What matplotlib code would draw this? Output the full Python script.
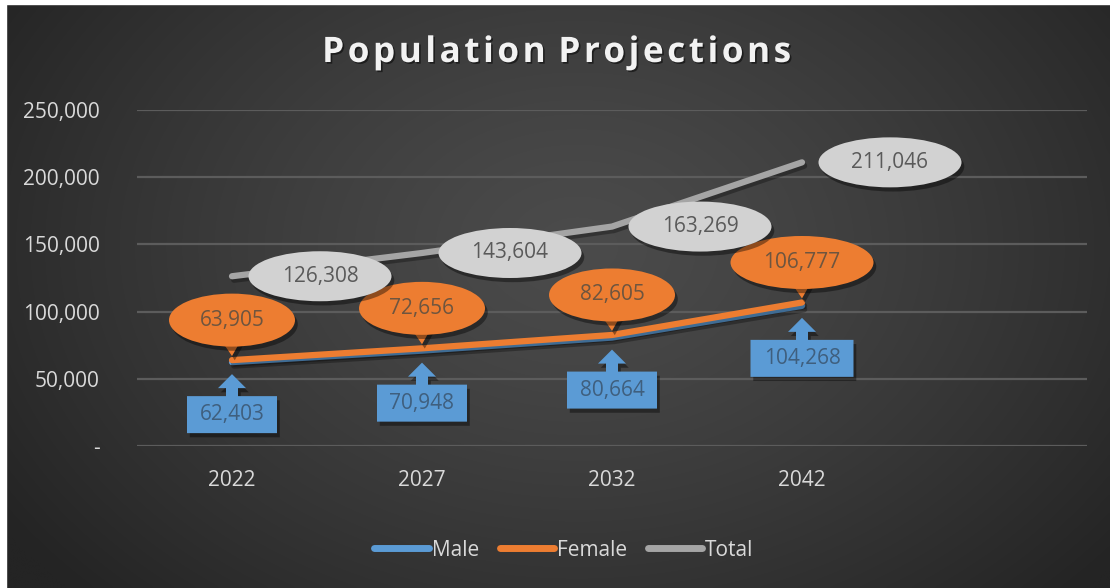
import numpy as np
import matplotlib
matplotlib.use("Agg")
import matplotlib.pyplot as plt
import matplotlib.transforms as mtransforms
import matplotlib.patheffects as pe
from matplotlib.patches import Ellipse, Polygon, Rectangle
from matplotlib.ticker import FuncFormatter

# ---- data -------------------------------------------------------------
years = ["2022", "2027", "2032", "2042"]
male = [62403, 70948, 80664, 104268]
female = [63905, 72656, 82605, 106777]
total = [126308, 143604, 163269, 211046]
y_ticks = [0, 50000, 100000, 150000, 200000, 250000]
title = "Population Projections"

# ---- styling ----------------------------------------------------------
C_MALE = "#5b9bd5"
C_FEMALE = "#ed7d31"
C_TOTAL = "#a5a5a5"
C_TOTAL_LABEL = "#d2d2d2"
TXT = "#d9d9d9"
FONT = "Open Sans"

plt.rcParams["font.family"] = [FONT, "DejaVu Sans"]

W, H, DPI = 1110, 588, 100
fig = plt.figure(figsize=(W / DPI, H / DPI), dpi=DPI)

# radial gradient background
bg = fig.add_axes([0, 0, 1, 1], zorder=-10)
gx, gy = np.meshgrid(np.linspace(0, 1, 400), np.linspace(0, 1, 220))
r = np.sqrt(((gx - 0.52) / 0.62) ** 2 + ((gy - 0.42) / 0.85) ** 2)
r = np.clip(r, 0, 1)
lev = (0x4b - (0x4b - 0x24) * r ** 1.3) / 255.0
img = np.dstack([lev, lev, lev])
bg.imshow(img, extent=[0, 1, 0, 1], aspect="auto", origin="upper",
          interpolation="bicubic")
bg.set_xlim(0, 1)
bg.set_ylim(0, 1)
bg.axis("off")
# page margin strips
bg.add_patch(Rectangle((0, 0), 6 / W, 1, color="white", transform=bg.transAxes))
bg.add_patch(Rectangle((0, 1 - 4 / H), 1, 4 / H, color="white",
                       transform=bg.transAxes))

# plot area
left, right = 137, 1087
top, bottom = 110, 446
ax = fig.add_axes([left / W, (H - bottom) / H, (right - left) / W,
                   (bottom - top) / H])
ax.set_facecolor("none")
ax.set_xlim(-0.5, 4.5)
ax.set_ylim(0, 250000)
ax.set_yticks(y_ticks)
ax.yaxis.set_major_formatter(
    FuncFormatter(lambda v, p: "-" if v == 0 else f"{int(v):,}"))
ax.set_xticks(range(len(years)))
ax.set_xticklabels(years)
ax.tick_params(axis="both", length=0, colors=TXT, labelsize=15)
ax.tick_params(axis="y", pad=27)
ax.tick_params(axis="x", pad=17)
for s in ax.spines.values():
    s.set_visible(False)
ax.grid(axis="y", color="#5c5c5c", linewidth=1.6)
ax.set_axisbelow(True)

x = np.arange(len(years))
line_fx = [pe.SimpleLineShadow(offset=(1.5, -2.5), shadow_color="black",
                               alpha=0.3), pe.Normal()]
ax.plot(x, male, color=C_MALE, lw=4.5, solid_capstyle="round",
        label="Male", path_effects=line_fx, zorder=3)
ax.plot(x, female, color=C_FEMALE, lw=4.5, solid_capstyle="round",
        label="Female", path_effects=line_fx, zorder=3.1)
ax.plot(x, total, color=C_TOTAL, lw=4.5, solid_capstyle="round",
        label="Total", path_effects=line_fx, zorder=3.2)

shape_fx = [pe.SimplePatchShadow(offset=(2, -3), shadow_rgbFace="black",
                                 alpha=0.4), pe.Normal()]


def anchor(xd, yd):
    """Pixel-unit transform anchored at a data point."""
    return mtransforms.Affine2D() + mtransforms.ScaledTranslation(
        xd, yd, ax.transData)


def label_text(xd, yd, dx, dy, s, color, z):
    ax.text(dx, dy, s, transform=anchor(xd, yd), ha="center", va="center",
            fontsize=15, color=color, zorder=z + 0.5, clip_on=False)


# male: rectangle with an upward arrow pointing at the point
for xi, v in zip(x, male):
    s = f"{v:,}"
    hw = 45 + (len(s) - 6) * 6.5
    pts = [(0, -12), (14, -26), (6, -26), (6, -34), (hw, -34), (hw, -71),
           (-hw, -71), (-hw, -34), (-6, -34), (-6, -26), (-14, -26)]
    ax.add_patch(Polygon(pts, closed=True, facecolor=C_MALE, edgecolor="none",
                         transform=anchor(xi, v), zorder=5, clip_on=False,
                         path_effects=shape_fx))
    label_text(xi, v, 0, -52.5, s, "#3f5f7e", 5)

# female: oval callout above the point
for xi, v in zip(x, female):
    s = f"{v:,}"
    w = 126 + (len(s) - 6) * 17
    tr = anchor(xi, v)
    ax.add_patch(Polygon([(-11, 20), (0, 4), (9, 20)], closed=True,
                         facecolor=C_FEMALE, edgecolor="none", transform=tr,
                         zorder=6, clip_on=False, path_effects=shape_fx))
    ax.add_patch(Ellipse((0, 40), w, 53, facecolor=C_FEMALE,
                         edgecolor="none", transform=tr, zorder=6,
                         clip_on=False, path_effects=shape_fx))
    label_text(xi, v, 0, 40, s, "#6e553f", 6)

# total: oval to the right of the point
for xi, v in zip(x, total):
    s = f"{v:,}"
    tr = anchor(xi, v)
    ax.add_patch(Ellipse((88, 0), 143, 50, facecolor=C_TOTAL_LABEL,
                         edgecolor="none", transform=tr, zorder=7,
                         clip_on=False, path_effects=shape_fx))
    label_text(xi, v, 88, 0, s, "#5a5a5a", 7)

# title, letter-spaced with hair spaces
spaced_title = "\u200a ".join("\u200a".join(word) for word in title.split(" "))
fig.text(0.5014, 1 - 53 / H, spaced_title, ha="center",
         va="center", fontsize=25.3, fontweight="bold", color="#f2f2f2",
         path_effects=[pe.withSimplePatchShadow(offset=(1.2, -1.2),
                                                shadow_rgbFace="black",
                                                alpha=0.5)])

leg = fig.legend(handles=ax.get_lines(), loc="center",
                 bbox_to_anchor=(564 / W, 1 - 550 / H), ncol=3, frameon=False,
                 fontsize=15, handlelength=2.6, handletextpad=0.15,
                 columnspacing=1.0)
for t in leg.get_texts():
    t.set_color(TXT)
for h in leg.legend_handles:
    h.set_path_effects([])
    h.set_linewidth(5)

fig.savefig("out.png", dpi=DPI)
